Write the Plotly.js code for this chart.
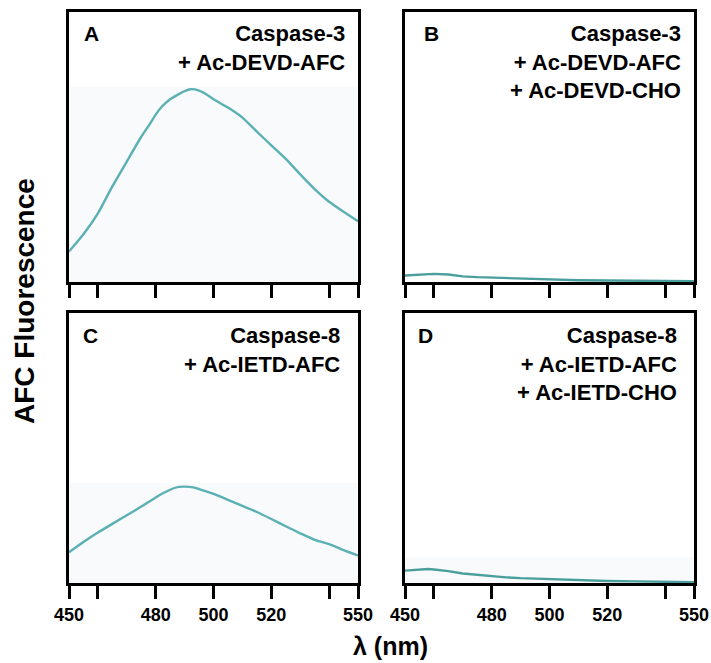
<!DOCTYPE html>
<html>
<head>
<meta charset="utf-8">
<script src="https://cdn.plot.ly/plotly-3.0.1.min.js"></script>
<style>html,body{margin:0;padding:0;background:#fff;}#chart{width:711px;height:663px;}</style>
</head>
<body>
<div id="chart"></div>
<script>
// Wavelengths (nm)
const wlA = [450,455,460,465,470,475,478,480,482,485,488,490,492,495,498,500,505,510,515,520,525,530,535,540,545,550];
const fluorA = [11.3,17.7,25.4,35.4,44.6,53.8,58.6,62.0,64.8,67.7,69.6,70.7,71.4,70.9,69.2,67.7,64.6,60.9,55.7,50.6,45.6,39.9,34.4,29.7,26.0,22.5];

const wlB = [450,455,460,465,470,475,480,485,490,495,500,510,520,530,540,550];
const fluorB = [2.4,2.8,3.0,2.8,2.1,1.8,1.6,1.4,1.2,1.0,0.8,0.65,0.55,0.48,0.4,0.3];

const wlC = [450,455,460,465,470,475,480,483,486,488,490,493,495,500,505,510,515,520,525,530,535,540,545,550];
const fluorC = [11.4,15.2,18.7,21.9,25.1,28.3,31.7,33.5,35.0,35.6,35.7,35.4,34.8,33.0,30.8,28.6,26.3,23.7,21.0,18.4,16.0,14.4,12.2,10.2];

const wlD = [450,455,458,460,465,470,475,480,485,490,495,500,505,510,520,530,540,550];
const fluorD = [4.6,5.0,5.2,5.0,4.4,3.5,3.0,2.4,2.1,1.8,1.6,1.5,1.2,1.0,0.75,0.6,0.45,0.3];

const tickVals = [450,460,480,500,520,540,550];
const tickText = ['450','','480','500','520','','550'];

const panelLetters = ['A','B','C','D'];
const panelTexts = [
  'Caspase-3<br>+ Ac-DEVD-AFC',
  'Caspase-3<br>+ Ac-DEVD-AFC<br>+ Ac-DEVD-CHO',
  'Caspase-8<br>+ Ac-IETD-AFC',
  'Caspase-8<br>+ Ac-IETD-AFC<br>+ Ac-IETD-CHO'
];
// faint scanned background band heights
const bandTops = [72.3, 0, 37, 9.6];

const W = 711, H = 663;
const colL = [69/W, 358/W], colR = [405/W, 694/W];
const rowT = [1-282/H, 1-12/H], rowB = [1-583/H, 1-313/H];

const lineA = '#5bb0b4', lineB = '#4a9f9c';
const traces = [
  {x: wlA, y: fluorA, xaxis:'x', yaxis:'y', line:{color:lineA, width:2.4, shape:'spline', smoothing:0.6}},
  {x: wlB, y: fluorB, xaxis:'x2', yaxis:'y2', line:{color:lineB, width:2.4}},
  {x: wlC, y: fluorC, xaxis:'x3', yaxis:'y3', line:{color:lineA, width:2.4, shape:'spline', smoothing:0.6}},
  {x: wlD, y: fluorD, xaxis:'x4', yaxis:'y4', line:{color:lineB, width:2.4}}
].map(t => Object.assign({type:'scatter', mode:'lines', hoverinfo:'skip', showlegend:false}, t));

function xax(domain, anchor, labels) {
  return {domain, anchor, range:[450,550], tickmode:'array', tickvals:tickVals, ticktext:tickText,
    showticklabels:labels, ticks:'outside', ticklen:13, tickwidth:3, tickcolor:'#000',
    showline:true, linewidth:3, linecolor:'#000', mirror:true, showgrid:false, zeroline:false,
    tickfont:{family:'Liberation Sans, Arial', size:18, color:'#000', weight:'bold'}};
}
function yax(domain, anchor) {
  return {domain, anchor, range:[0,100], showticklabels:false, ticks:'', showline:true, linewidth:3,
    linecolor:'#000', mirror:true, showgrid:false, zeroline:false};
}

const font = {family:'Liberation Sans, Arial', size:22, color:'#000', weight:'bold'};
const letterPos = [[0.046,0.922],[0.059,0.922],[0.043,0.915],[0.038,0.915]];
const textPos = [[0.962,0.975],[0.963,0.975],[0.944,0.972],[0.949,0.972]];
const refs = [['x','y'],['x2','y2'],['x3','y3'],['x4','y4']];

const annotations = [];
const shapes = [];
refs.forEach((r,i) => {
  annotations.push({xref:r[0]+' domain', yref:r[1]+' domain', x:letterPos[i][0], y:letterPos[i][1],
    xanchor:'left', yanchor:'middle', text:panelLetters[i], showarrow:false, font:Object.assign({}, font, {size:21})});
  annotations.push({xref:r[0]+' domain', yref:r[1]+' domain', x:textPos[i][0], y:textPos[i][1],
    xanchor:'right', yanchor:'top', align:'right', text:panelTexts[i], showarrow:false, font:font});
  if (bandTops[i] > 0) {
    shapes.push({type:'rect', xref:r[0], yref:r[1], x0:450, x1:550, y0:0, y1:bandTops[i],
      fillcolor:'#f8fafc', line:{width:0}, layer:'below'});
  }
});

annotations.push({xref:'paper', yref:'paper', x:390/W, y:1-646/H, xanchor:'center', yanchor:'middle',
  text:'λ (nm)', showarrow:false, font:{family:'Liberation Sans, Arial', size:25, color:'#000', weight:'bold'}});
annotations.push({xref:'paper', yref:'paper', x:25/W, y:1-301/H, xanchor:'center', yanchor:'middle',
  text:'AFC Fluorescence', textangle:-90, showarrow:false, font:{family:'Liberation Sans, Arial', size:28, color:'#000', weight:'bold'}});

const layout = {
  width:W, height:H, margin:{l:0,r:0,t:0,b:0}, paper_bgcolor:'#fff', plot_bgcolor:'rgba(0,0,0,0)',
  showlegend:false,
  xaxis: xax(colL,'y',false), yaxis: yax(rowT,'x'),
  xaxis2: xax(colR,'y2',false), yaxis2: yax(rowT,'x2'),
  xaxis3: xax(colL,'y3',true), yaxis3: yax(rowB,'x3'),
  xaxis4: xax(colR,'y4',true), yaxis4: yax(rowB,'x4'),
  annotations, shapes
};
Plotly.newPlot('chart', traces, layout, {staticPlot:true, displayModeBar:false});
</script>
</body>
</html>
